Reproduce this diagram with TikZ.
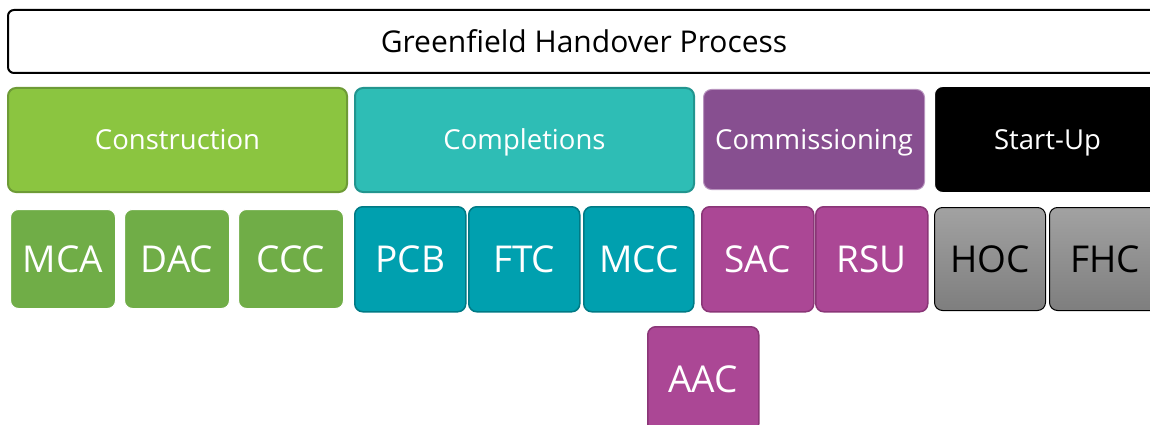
\documentclass[tikz,border=0pt]{standalone}
\usepackage{fontspec}
\setmainfont{Open Sans}
\definecolor{conFill}{HTML}{8BC540}
\definecolor{conLine}{HTML}{6E9B36}
\definecolor{conItem}{HTML}{70AD47}
\definecolor{cmpFill}{HTML}{2EBDB5}
\definecolor{cmpLine}{HTML}{22958F}
\definecolor{cmpItem}{HTML}{00A0AF}
\definecolor{cmpItemLine}{HTML}{007A85}
\definecolor{comFill}{HTML}{874F90}
\definecolor{comLine}{HTML}{B894BE}
\definecolor{comItem}{HTML}{AB4795}
\definecolor{comItemLine}{HTML}{8A3677}
\definecolor{suTop}{HTML}{A2A2A2}
\definecolor{suBot}{HTML}{7E7E7E}
\tikzset{
  box/.style={rounded corners=8pt, inner sep=0pt, anchor=north west, align=center,
    text depth=0pt},
  phase/.style={box, font=\fontsize{27.5}{32}\selectfont, text height=19.6pt,
    text=white, line width=2pt},
  item/.style={box, font=\fontsize{37}{42}\selectfont, text height=26.4pt,
    text=white, line width=1.5pt, minimum width=#1, minimum height=104pt},
  item/.default=108pt,
}
\begin{document}
\begin{tikzpicture}[x=1pt,y=-1pt]
\useasboundingbox (0,0) rectangle (1150,425);
\clip (0,0) rectangle (1150,425);

% title bar
\node[box, draw=black, fill=white, line width=2pt, rounded corners=6pt,
  minimum width=1152pt, minimum height=63pt, text height=21.4pt,
  font=\fontsize{30}{34}\selectfont] (title) at (7,9) {Greenfield Handover Process};

% phase headers
\node[phase, fill=conFill, draw=conLine, minimum width=339pt, minimum height=104pt]
  (construction) at (7,87) {Construction};
\node[phase, fill=cmpFill, draw=cmpLine, minimum width=339pt, minimum height=104pt]
  (completions) at (354,87) {Completions};
\node[phase, fill=comFill, draw=comLine, line width=1pt, minimum width=221pt, minimum height=100pt]
  (commissioning) at (703,89) {Commissioning};
\node[phase, fill=black, draw=white, line width=1pt, minimum width=226pt, minimum height=106pt]
  (startup) at (934,86) {Start-Up};

% construction certificates
\node[item=105pt, fill=conItem, draw=white, line width=1pt, minimum height=99pt] (mca) at (10,209) {MCA};
\node[item=105pt, fill=conItem, draw=white, line width=1pt, minimum height=99pt] (dac) at (124,209) {DAC};
\node[item=105pt, fill=conItem, draw=white, line width=1pt, minimum height=99pt] (ccc) at (238,209) {CCC};

% completions certificates
\node[item=111pt, fill=cmpItem, draw=cmpItemLine, minimum height=105pt] (pcb) at (354,206) {PCB};
\node[item=111pt, fill=cmpItem, draw=cmpItemLine, minimum height=105pt] (ftc) at (468,206) {FTC};
\node[item=110pt, fill=cmpItem, draw=cmpItemLine, minimum height=105pt] (mcc) at (583,206) {MCC};

% commissioning certificates
\node[item=112pt, fill=comItem, draw=comItemLine, minimum height=105pt] (sac) at (701,206) {SAC};
\node[item=112pt, fill=comItem, draw=comItemLine, minimum height=105pt] (rsu) at (815,206) {RSU};
\node[item=111pt, fill=comItem, draw=comItemLine, minimum height=105pt] (aac) at (647,326) {AAC};

% start-up certificates
\node[item=111pt, top color=suTop, bottom color=suBot, draw=black, line width=1pt,
  text=black, minimum height=103pt] (hoc) at (934,207) {HOC};
\node[item=111pt, top color=suTop, bottom color=suBot, draw=black, line width=1pt,
  text=black, minimum height=103pt] (fhc) at (1049,207) {FHC};
\end{tikzpicture}
\end{document}
